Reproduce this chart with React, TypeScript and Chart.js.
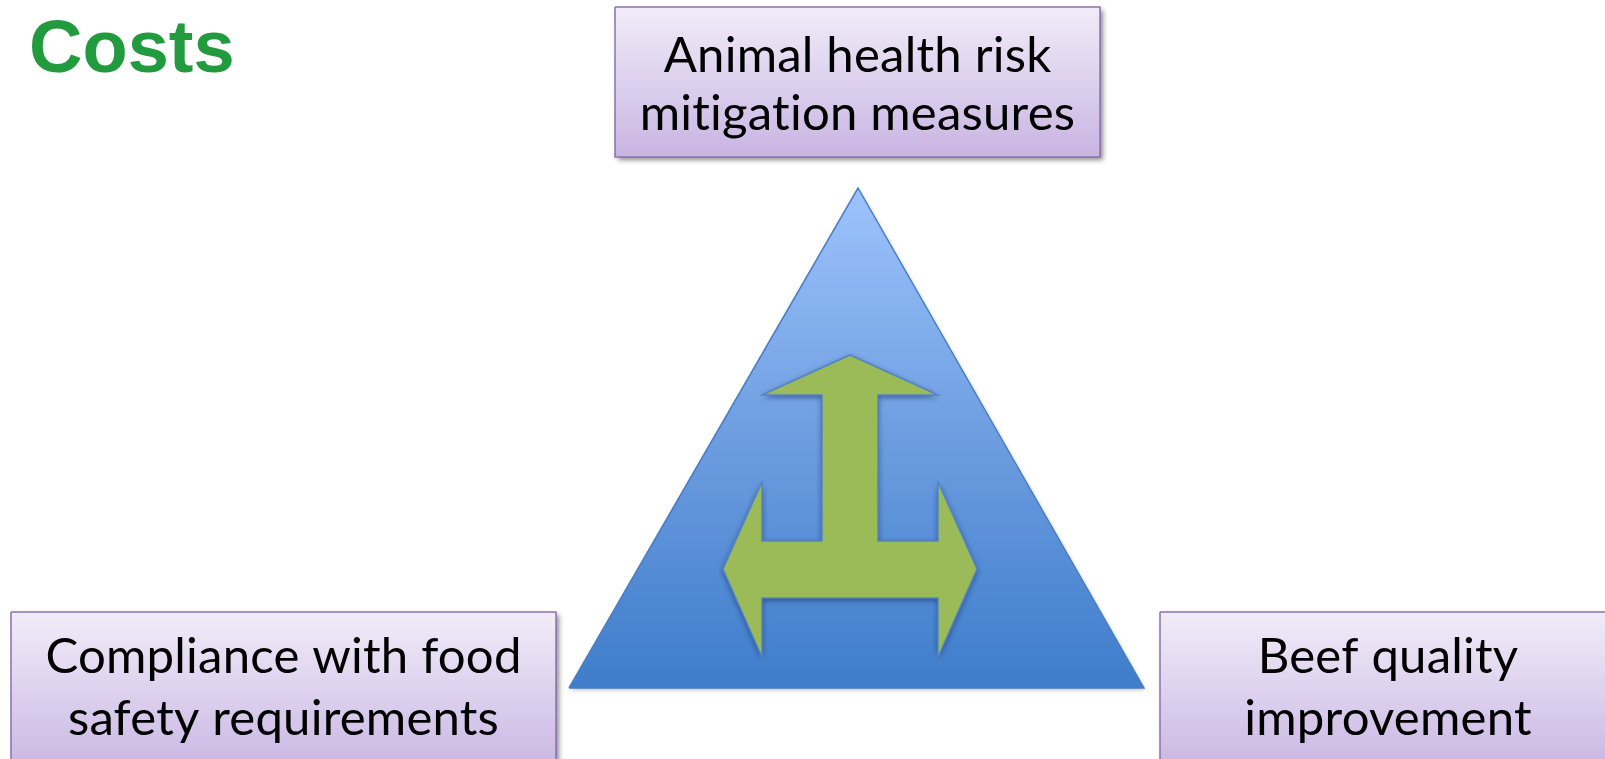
import React, { useEffect, useRef } from "react";
import { Chart, registerables } from "chart.js";

Chart.register(...registerables);

// ---- data ----
const titleText = "Costs";
const titleX = [29];
const titleY = [72];

const triangleX = [569, 858, 1144, 569];
const triangleY = [688, 188, 688, 688];

const arrowX = [850, 938, 878, 878, 938, 938, 977, 938, 938, 762, 762, 723, 762, 762, 822, 822, 762, 850];
const arrowY = [355, 395, 395, 541, 541, 482, 569, 657, 598, 598, 657, 569, 482, 541, 541, 395, 395, 355];

const boxLines = [
  ["Animal health risk", "mitigation measures"],
  ["Compliance with food", "safety requirements"],
  ["Beef quality", "improvement"],
];
const boxLeft = [615, 11, 1160];
const boxRight = [1100, 556, 1616];
const boxTop = [7, 612, 612];
const boxBottom = [157, 775, 775];
const boxLine1Y = [72, 673, 673];
const boxLine2Y = [130, 735, 735];

// ---- helpers ----
const pts = (xs: number[], ys: number[]) => xs.map((x, i) => ({ x, y: ys[i] }));
const rect = (i: number) =>
  pts(
    [boxLeft[i], boxRight[i], boxRight[i], boxLeft[i], boxLeft[i]],
    [boxTop[i], boxTop[i], boxBottom[i], boxBottom[i], boxTop[i]]
  );

const polyFillPlugin = {
  id: "polyFill",
  beforeDatasetDraw(chart: any, args: any) {
    const ds: any = chart.data.datasets[args.index];
    if (!ds.polyGradient) return;
    const ctx = chart.ctx;
    const els = args.meta.data;
    if (!els.length) return;
    let minY = Infinity, maxY = -Infinity;
    els.forEach((p: any) => { minY = Math.min(minY, p.y); maxY = Math.max(maxY, p.y); });
    const g = ctx.createLinearGradient(0, minY, 0, maxY);
    ds.polyGradient.forEach((c: string, k: number) => g.addColorStop(k / (ds.polyGradient.length - 1), c));
    ctx.save();
    ctx.beginPath();
    els.forEach((p: any, k: number) => (k === 0 ? ctx.moveTo(p.x, p.y) : ctx.lineTo(p.x, p.y)));
    ctx.closePath();
    if (ds.polyShadow) {
      ctx.shadowColor = ds.polyShadow[0];
      ctx.shadowBlur = ds.polyShadow[1];
      ctx.shadowOffsetX = ds.polyShadow[2];
      ctx.shadowOffsetY = ds.polyShadow[3];
    }
    ctx.fillStyle = g;
    ctx.fill();
    ctx.restore();
  },
};

const textPlugin = {
  id: "diagramText",
  afterDatasetsDraw(chart: any) {
    const ctx = chart.ctx;
    const xs = chart.scales.x;
    const ys = chart.scales.y;
    ctx.save();
    ctx.textBaseline = "alphabetic";
    // title
    ctx.fillStyle = "#229b3f";
    ctx.font = "bold 74px 'Liberation Sans', Arial, sans-serif";
    ctx.textAlign = "left";
    ctx.fillText(titleText, xs.getPixelForValue(titleX[0]), ys.getPixelForValue(titleY[0]));
    // box labels: fit size so widest reference line matches
    ctx.font = "60px Lato";
    const w = ctx.measureText("Compliance with food").width;
    const size = (60 * 472) / w;
    ctx.font = `${size.toFixed(1)}px Lato`;
    try { (ctx as any).letterSpacing = "0.2px"; } catch (e) {}
    ctx.fillStyle = "#000000";
    ctx.textAlign = "center";
    boxLines.forEach((lines, i) => {
      const cx = xs.getPixelForValue((boxLeft[i] + boxRight[i]) / 2);
      ctx.fillText(lines[0], cx, ys.getPixelForValue(boxLine1Y[i]));
      ctx.fillText(lines[1], cx, ys.getPixelForValue(boxLine2Y[i]));
    });
    ctx.restore();
  },
};

export default function App() {
  const ref = useRef<HTMLCanvasElement | null>(null);
  useEffect(() => {
    document.body.style.margin = "0";
    const boxDatasets = boxLines.map((_, i) => ({
      type: "line" as const,
      label: boxLines[i].join(" "),
      data: rect(i),
      borderColor: "#8a72b0",
      borderWidth: 1.5,
      pointRadius: 0,
      tension: 0,
      fill: false,
      order: 2,
      polyGradient: ["#f1ecf8", "#ddd1ee", "#c8b4e2"],
      polyShadow: ["rgba(0,0,0,0.45)", 5, 3, 3],
    }));
    const chart = new Chart(ref.current as HTMLCanvasElement, {
      type: "scatter",
      data: {
        datasets: [
          {
            type: "line",
            label: "triangle",
            data: pts(triangleX, triangleY),
            borderColor: "#4a7ec2",
            borderWidth: 1.5,
            pointRadius: 0,
            tension: 0,
            fill: false,
            order: 3,
            polyGradient: ["#9dc3fc", "#6d9de0", "#3e7dcb"],
            polyShadow: ["rgba(0,0,0,0.25)", 4, 1, 2],
          } as any,
          {
            type: "line",
            label: "arrow",
            data: pts(arrowX, arrowY),
            borderColor: "#5585c0",
            borderWidth: 1.5,
            pointRadius: 0,
            tension: 0,
            fill: false,
            order: 1,
            polyGradient: ["#9bbb59", "#9bbb59"],
            polyShadow: ["rgba(10,30,80,0.6)", 6, 0, 2],
          } as any,
          ...(boxDatasets as any[]),
        ],
      },
      options: {
        animation: false,
        responsive: true,
        maintainAspectRatio: false,
        layout: { padding: 0 },
        plugins: { legend: { display: false }, tooltip: { enabled: false } },
        events: [],
        scales: {
          x: { type: "linear", min: 0, max: 1605, display: false },
          y: { type: "linear", min: 0, max: 759, reverse: true, display: false },
        },
      },
      plugins: [polyFillPlugin, textPlugin],
    });
    return () => chart.destroy();
  }, []);
  return (
    <div style={{ position: "relative", width: "1605px", height: "759px", background: "#ffffff" }}>
      <canvas ref={ref} />
    </div>
  );
}
